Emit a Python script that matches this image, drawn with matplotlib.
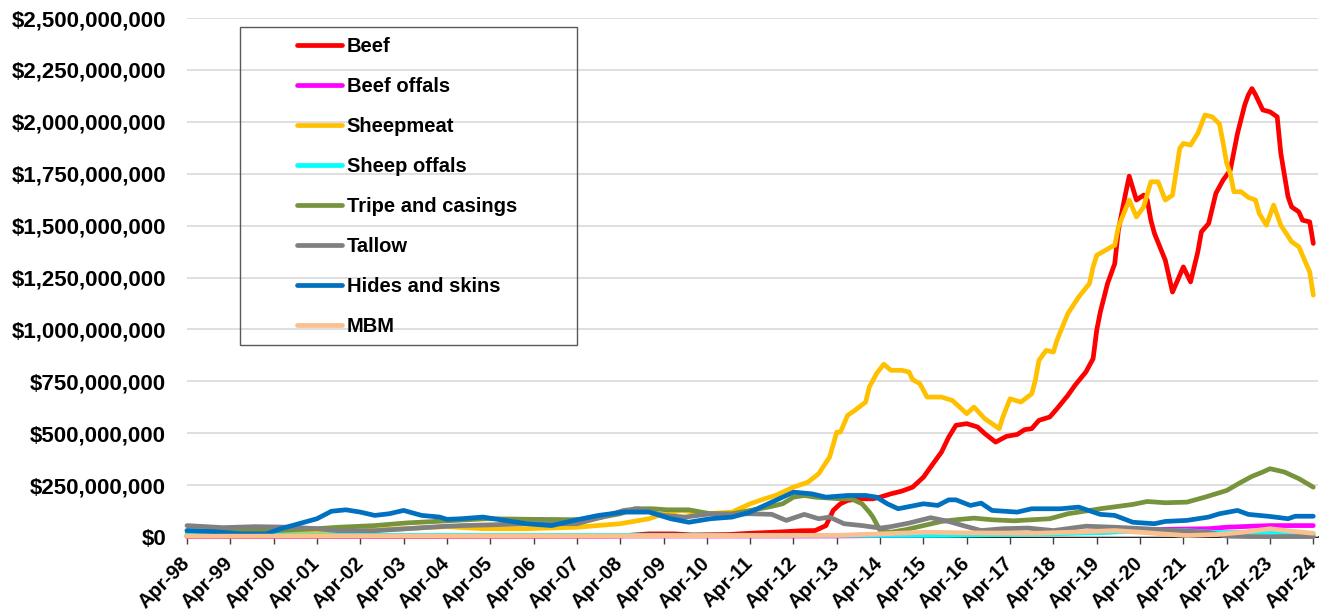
import matplotlib
matplotlib.use("Agg")
import matplotlib.pyplot as plt
import numpy as np
from matplotlib.ticker import FuncFormatter, FixedLocator
from matplotlib.patches import Rectangle

plt.rcParams['font.family'] = ['Liberation Sans', 'DejaVu Sans']

# Month index counted from Apr-1998 (0) to Apr-2024 (312); values in NZ$ millions
tick_labels = ["Apr-%02d" % (y % 100) for y in range(1998, 2025)]

beef_m = [0, 60, 120, 128, 135, 140, 150, 156, 165, 170, 174, 177, 179, 181, 183, 186, 190, 192, 195, 198, 201, 204, 206, 209, 211, 213, 216, 219, 221, 224, 227, 230, 232, 234, 236, 239, 241, 244, 246, 249, 251, 252, 253, 255, 257, 258, 260, 261, 263, 265, 266, 267, 268, 271, 273, 276, 278, 280, 281, 283, 285, 287, 289, 291, 293, 294, 295, 296, 298, 300, 302, 303, 305, 306, 308, 309, 311, 312]
beef_v = [3, 3, 5, 15, 15, 10, 12, 18, 25, 30, 31, 55, 128, 160, 176, 184, 184, 192, 208, 221, 240, 288, 337, 409, 481, 538, 546, 530, 498, 457, 485, 494, 517, 522, 562, 578, 618, 682, 731, 795, 859, 996, 1084, 1221, 1317, 1478, 1655, 1738, 1623, 1647, 1623, 1526, 1462, 1333, 1180, 1301, 1229, 1373, 1470, 1510, 1655, 1719, 1767, 1944, 2081, 2129, 2160, 2130, 2057, 2048, 2024, 1848, 1639, 1590, 1566, 1526, 1518, 1414]

beef_offals_m = [0, 60, 120, 180, 200, 215, 225, 240, 255, 265, 283, 288, 295, 300, 312]
beef_offals_v = [5, 5, 5, 5, 8, 15, 15, 20, 25, 35, 40, 47, 52, 55, 55]

sheep_m = [0, 12, 24, 36, 48, 60, 72, 82, 94, 108, 120, 128, 132, 137, 144, 151, 156, 160, 163, 168, 172, 175, 178, 180, 181, 183, 185, 188, 189, 191, 193, 195, 198, 200, 201, 203, 205, 209, 212, 216, 218, 221, 225, 226, 228, 231, 234, 235, 236, 238, 240, 241, 244, 247, 250, 251, 252, 256, 257, 258, 261, 263, 265, 267, 269, 271, 273, 275, 276, 278, 280, 282, 284, 286, 287, 288, 289, 290, 292, 294, 296, 297, 299, 301, 303, 306, 308, 310, 311, 312]
sheep_v = [20, 20, 15, 18, 30, 40, 50, 40, 40, 47, 64, 88, 112, 128, 112, 120, 160, 184, 200, 240, 264, 305, 385, 505, 505, 586, 610, 650, 722, 787, 832, 803, 803, 795, 758, 739, 674, 674, 658, 594, 626, 570, 522, 578, 666, 650, 690, 755, 851, 899, 891, 948, 1076, 1156, 1221, 1301, 1357, 1397, 1405, 1494, 1623, 1542, 1590, 1711, 1711, 1623, 1647, 1872, 1896, 1888, 1944, 2033, 2024, 1990, 1900, 1800, 1751, 1663, 1663, 1636, 1623, 1559, 1502, 1599, 1502, 1422, 1398, 1317, 1277, 1165]

sheep_offals_m = [0, 100, 180, 210, 225, 240, 255, 266, 277, 285, 292, 300, 312]
sheep_offals_v = [8, 8, 8, 8, 12, 15, 22, 33, 30, 22, 22, 25, 15]

tripe_m = [0, 12, 24, 36, 42, 52, 61, 70, 83, 96, 111, 120, 124, 129, 133, 139, 145, 151, 156, 161, 165, 168, 171, 174, 181, 184, 187, 189, 190, 192, 195, 199, 204, 209, 213, 218, 223, 229, 234, 239, 244, 253, 262, 266, 271, 277, 282, 288, 292, 295, 298, 300, 304, 308, 312]
tripe_v = [30, 28, 30, 40, 47, 55, 68, 76, 88, 85, 83, 112, 136, 136, 131, 131, 112, 112, 128, 144, 160, 192, 200, 192, 184, 184, 160, 120, 96, 31, 23, 35, 55, 75, 83, 91, 83, 78, 83, 88, 112, 136, 157, 171, 165, 168, 192, 224, 264, 292, 313, 329, 313, 281, 240]

tallow_m = [0, 10, 19, 29, 36, 42, 52, 61, 70, 76, 83, 94, 108, 115, 121, 125, 132, 138, 145, 151, 156, 162, 166, 171, 175, 178, 182, 187, 192, 195, 200, 206, 211, 215, 220, 226, 233, 240, 249, 257, 265, 274, 283, 288, 295, 312]
tallow_v = [55, 45, 50, 47, 40, 30, 30, 40, 50, 55, 58, 64, 64, 96, 128, 136, 104, 96, 112, 109, 112, 109, 80, 109, 88, 96, 64, 55, 43, 50, 67, 93, 75, 55, 31, 40, 43, 31, 52, 47, 40, 31, 23, 4, 2, 2]

hides_m = [0, 8, 15, 22, 26, 31, 36, 40, 44, 48, 52, 56, 60, 65, 70, 72, 76, 82, 94, 101, 108, 114, 121, 128, 134, 139, 145, 151, 156, 161, 168, 173, 177, 183, 188, 191, 194, 197, 204, 208, 211, 213, 217, 220, 223, 230, 234, 242, 247, 253, 257, 262, 268, 271, 277, 283, 286, 291, 294, 300, 305, 307, 312]
hides_v = [31, 25, 15, 15, 40, 64, 88, 124, 131, 120, 104, 112, 128, 104, 96, 85, 88, 96, 64, 55, 83, 104, 120, 120, 88, 71, 88, 96, 120, 160, 216, 208, 192, 200, 200, 192, 160, 136, 160, 152, 179, 179, 152, 163, 128, 120, 136, 136, 144, 109, 104, 71, 64, 75, 80, 96, 112, 128, 109, 99, 88, 100, 100]

mbm_m = [0, 120, 180, 192, 205, 215, 235, 245, 257, 265, 270, 277, 285, 292, 300, 306, 312]
mbm_v = [4, 5, 8, 15, 23, 20, 18, 23, 31, 22, 15, 7, 12, 22, 40, 28, 18]

series = [
    ("Beef", beef_m, beef_v, "#FF0000"),
    ("Beef offals", beef_offals_m, beef_offals_v, "#FF00FF"),
    ("Sheepmeat", sheep_m, sheep_v, "#FFC000"),
    ("Sheep offals", sheep_offals_m, sheep_offals_v, "#00FFFF"),
    ("Tripe and casings", tripe_m, tripe_v, "#77933C"),
    ("Tallow", tallow_m, tallow_v, "#808080"),
    ("Hides and skins", hides_m, hides_v, "#0070C0"),
    ("MBM", mbm_m, mbm_v, "#FAC090"),
]

W, H = 1330, 615
fig = plt.figure(figsize=(W / 100, H / 100), dpi=100)
ax = fig.add_axes([187 / W, 1 - 537 / H, (1318 - 187) / W, (537 - 18) / H])

for name, m, v, c in series:
    ax.plot(m, np.array(v) * 1e6, color=c, lw=3.4, label=name,
            solid_capstyle='round', solid_joinstyle='round', clip_on=False)

ax.set_xlim(0, 313.3)
ax.set_ylim(0, 2.5e9)
ax.set_yticks(np.arange(0, 2.5e9 + 1, 2.5e8))
ax.yaxis.set_major_formatter(FuncFormatter(lambda v, p: "${:,.0f}".format(v)))
ax.xaxis.set_major_locator(FixedLocator(np.arange(0, 313, 12)))
ax.set_xticklabels(tick_labels, rotation=45, ha='right', va='center',
                   rotation_mode='anchor')
ax.grid(axis='y', color='#D9D9D9', lw=1.2)
ax.set_axisbelow(True)
for s in ['top', 'right', 'left']:
    ax.spines[s].set_visible(False)
ax.spines['bottom'].set_color('#000000')
ax.spines['bottom'].set_linewidth(1.2)
ax.spines['bottom'].set_zorder(0.5)
ax.tick_params(axis='y', length=0, pad=15, labelsize=16)
ax.tick_params(axis='x', length=5, width=1, color='#404040', pad=12, labelsize=14.5)
for lab in ax.get_xticklabels() + ax.get_yticklabels():
    lab.set_fontweight('bold')

# legend frame
fig.patches.append(Rectangle((240 / W, 1 - 345 / H), 337 / W, 318 / H,
                             transform=fig.transFigure, fill=False,
                             edgecolor='#595959', lw=1.0))
leg = fig.legend(loc='upper left', bbox_to_anchor=(297 / W, 1 - 37 / H),
                 frameon=False, handlelength=2.25,
                 handletextpad=0.22, labelspacing=1.04, borderpad=0,
                 borderaxespad=0, prop={'weight': 'bold', 'size': 14.5})
for t in leg.get_texts():
    t.set_color('#000000')

fig.savefig("out.png", dpi=100)
